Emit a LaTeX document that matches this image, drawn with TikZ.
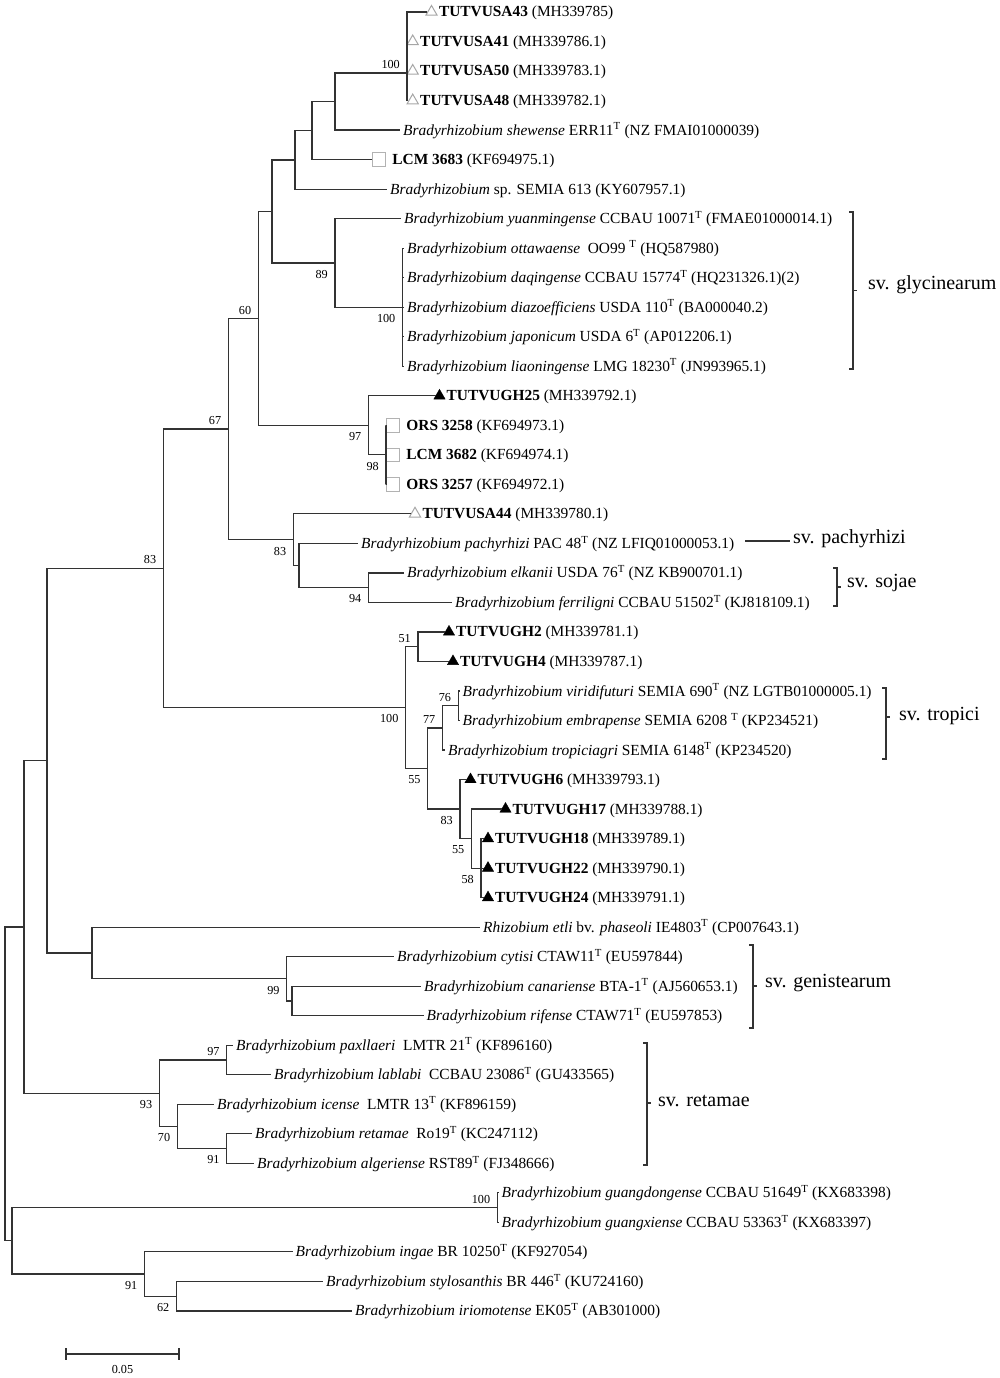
\documentclass[tikz,border=0pt]{standalone}
\usepackage{fontspec}
\setmainfont{Liberation Serif}
\usetikzlibrary{positioning,shapes.geometric}

\tikzset{
  branch/.style={line width=1.2pt, black!80},
  bracket/.style={line width=1.2pt, black!80},
  leaf/.style={anchor=west, inner xsep=3pt, inner ysep=0pt, text height=11.5pt, text depth=1.5pt,
    font=\fontsize{15.4}{18}\selectfont},
  boot/.style={inner sep=0pt, font=\fontsize{12.2}{14}\selectfont},
  bsup/.style={boot, anchor=south east, xshift=-7pt, yshift=4pt},
  bsdown/.style={boot, anchor=north east, xshift=-7pt, yshift=-7pt},
  usa/.style={regular polygon, regular polygon sides=3, draw=gray!70, line width=1pt, inner sep=0pt, minimum size=13pt},
  ugh/.style={regular polygon, regular polygon sides=3, draw=black, fill=black, inner sep=0pt, minimum size=13pt},
  refsq/.style={rectangle, draw=gray!60, line width=0.9pt, inner sep=0pt, minimum size=13.5pt},
  svlabel/.style={anchor=west, inner xsep=3pt, font=\fontsize{20}{24}\selectfont},
}

\begin{document}
\begin{tikzpicture}[x=1pt,y=-1pt]
\useasboundingbox (0,0) rectangle (1000,1378);

%Branch points of the tree (x = branch point, y = middle of its children)
\coordinate (nA) at (407,73);
\coordinate (nB) at (335,101.6);
\coordinate (nC) at (312,130.6);
\coordinate (nD) at (295,159.9);
\coordinate (nE) at (272,211.4);
\coordinate (n89) at (335,262.9);
\coordinate (n100b) at (402.5,307.2);
\coordinate (n60) at (258.3,318.4);
\coordinate (n97) at (368.4,425.3);
\coordinate (n98) at (386,454.8);
\coordinate (n83s) at (293.3,539.7);
\coordinate (nX) at (299,565.5);
\coordinate (n94) at (368.4,587.7);
\coordinate (n67) at (228.3,429);
\coordinate (n51) at (418,646.7);
\coordinate (n76) at (458.2,705.8);
\coordinate (n77) at (442.4,727.9);
\coordinate (n58) at (481,868.1);
\coordinate (n55b) at (471.5,838.6);
\coordinate (n83c) at (460,809);
\coordinate (n55) at (427.7,768.5);
\coordinate (n100t) at (405.6,707.6);
\coordinate (n83b) at (163.3,568.3);
\coordinate (nCR) at (292,1001);
\coordinate (n99) at (286.7,978.8);
\coordinate (nG) at (92,953);
\coordinate (nF) at (47,760.6);
\coordinate (n97r) at (226.7,1060);
\coordinate (n91r) at (226.7,1148.5);
\coordinate (n70) at (177.3,1126.4);
\coordinate (n93) at (159.3,1093.2);
\coordinate (nH) at (24,926.9);
\coordinate (n100g) at (497.3,1207.6);
\coordinate (n62) at (176.5,1296.2);
\coordinate (n91) at (144.5,1274);
\coordinate (nI) at (12,1240.8);
\coordinate (root) at (5,1083.9);

%Leaves
\node[usa] (m0) at (431.5,12) {};
\node[leaf, right=0pt of m0] (l0) {\textbf{TUTVUSA43} (MH339785)};
\node[usa] (m1) at (412.7,41.5) {};
\node[leaf, right=0pt of m1] (l1) {\textbf{TUTVUSA41} (MH339786.1)};
\node[usa] (m2) at (412.7,71) {};
\node[leaf, right=0pt of m2] (l2) {\textbf{TUTVUSA50} (MH339783.1)};
\node[usa] (m3) at (412.7,100.6) {};
\node[leaf, right=0pt of m3] (l3) {\textbf{TUTVUSA48} (MH339782.1)};
\node[leaf] (l4) at (400,130.1) {\textit{Bradyrhizobium shewense} ERR11\textsuperscript{T} (NZ FMAI01000039)};
\node[refsq] (m5) at (379,159.6) {};
\node[leaf, right=3pt of m5] (l5) {\textbf{LCM 3683} (KF694975.1)};
\node[leaf] (l6) at (387,189.1) {\textit{Bradyrhizobium} sp. SEMIA 613 (KY607957.1)};
\node[leaf] (l7) at (401,218.6) {\textit{Bradyrhizobium yuanmingense} CCBAU 10071\textsuperscript{T} (FMAE01000014.1)};
\node[leaf] (l8) at (404,248.2) {\textit{Bradyrhizobium ottawaense}\ \ OO99 \textsuperscript{T} (HQ587980)};
\node[leaf] (l9) at (404,277.7) {\textit{Bradyrhizobium daqingense} CCBAU 15774\textsuperscript{T} (HQ231326.1)(2)};
\node[leaf] (l10) at (404,307.2) {\textit{Bradyrhizobium diazoefficiens} USDA 110\textsuperscript{T} (BA000040.2)};
\node[leaf] (l11) at (404,336.7) {\textit{Bradyrhizobium japonicum} USDA 6\textsuperscript{T} (AP012206.1)};
\node[leaf] (l12) at (404,366.2) {\textit{Bradyrhizobium liaoningense} LMG 18230\textsuperscript{T} (JN993965.1)};
\node[ugh] (m13) at (439.5,395.8) {};
\node[leaf, right=0pt of m13] (l13) {\textbf{TUTVUGH25} (MH339792.1)};
\node[refsq] (m14) at (393,425.3) {};
\node[leaf, right=3pt of m14] (l14) {\textbf{ORS 3258} (KF694973.1)};
\node[refsq] (m15) at (393,454.8) {};
\node[leaf, right=3pt of m15] (l15) {\textbf{LCM 3682} (KF694974.1)};
\node[refsq] (m16) at (393,484.3) {};
\node[leaf, right=3pt of m16] (l16) {\textbf{ORS 3257} (KF694972.1)};
\node[usa] (m17) at (415,513.8) {};
\node[leaf, right=0pt of m17] (l17) {\textbf{TUTVUSA44} (MH339780.1)};
\node[leaf] (l18) at (358,543.4) {\textit{Bradyrhizobium pachyrhizi} PAC 48\textsuperscript{T} (NZ LFIQ01000053.1)};
\node[leaf] (l19) at (404,572.9) {\textit{Bradyrhizobium elkanii} USDA 76\textsuperscript{T} (NZ KB900701.1)};
\node[leaf] (l20) at (452,602.4) {\textit{Bradyrhizobium ferriligni} CCBAU 51502\textsuperscript{T} (KJ818109.1)};
\node[ugh] (m21) at (449,631.9) {};
\node[leaf, right=0pt of m21] (l21) {\textbf{TUTVUGH2} (MH339781.1)};
\node[ugh] (m22) at (453,661.4) {};
\node[leaf, right=0pt of m22] (l22) {\textbf{TUTVUGH4} (MH339787.1)};
\node[leaf] (l23) at (459.5,691) {\textit{Bradyrhizobium viridifuturi} SEMIA 690\textsuperscript{T} (NZ LGTB01000005.1)};
\node[leaf] (l24) at (459.5,720.5) {\textit{Bradyrhizobium embrapense} SEMIA 6208 \textsuperscript{T} (KP234521)};
\node[leaf] (l25) at (445,750) {\textit{Bradyrhizobium tropiciagri} SEMIA 6148\textsuperscript{T} (KP234520)};
\node[ugh] (m26) at (470.5,779.5) {};
\node[leaf, right=0pt of m26] (l26) {\textbf{TUTVUGH6} (MH339793.1)};
\node[ugh] (m27) at (505.5,809) {};
\node[leaf, right=0pt of m27] (l27) {\textbf{TUTVUGH17} (MH339788.1)};
\node[ugh] (m28) at (488,838.6) {};
\node[leaf, right=0pt of m28] (l28) {\textbf{TUTVUGH18} (MH339789.1)};
\node[ugh] (m29) at (488,868.1) {};
\node[leaf, right=0pt of m29] (l29) {\textbf{TUTVUGH22} (MH339790.1)};
\node[ugh] (m30) at (488,897.6) {};
\node[leaf, right=0pt of m30] (l30) {\textbf{TUTVUGH24} (MH339791.1)};
\node[leaf] (l31) at (480,927.1) {\textit{Rhizobium etli} bv. \textit{phaseoli} IE4803\textsuperscript{T} (CP007643.1)};
\node[leaf] (l32) at (394,956.6) {\textit{Bradyrhizobium cytisi} CTAW11\textsuperscript{T} (EU597844)};
\node[leaf] (l33) at (421,986.2) {\textit{Bradyrhizobium canariense} BTA-1\textsuperscript{T} (AJ560653.1)};
\node[leaf] (l34) at (423.5,1015.7) {\textit{Bradyrhizobium rifense} CTAW71\textsuperscript{T} (EU597853)};
\node[leaf] (l35) at (233,1045.2) {\textit{Bradyrhizobium paxllaeri}\ \ LMTR 21\textsuperscript{T} (KF896160)};
\node[leaf] (l36) at (271,1074.7) {\textit{Bradyrhizobium lablabi}\ \ CCBAU 23086\textsuperscript{T} (GU433565)};
\node[leaf] (l37) at (214,1104.2) {\textit{Bradyrhizobium icense}\ \ LMTR 13\textsuperscript{T} (KF896159)};
\node[leaf] (l38) at (252,1133.8) {\textit{Bradyrhizobium retamae}\ \ Ro19\textsuperscript{T} (KC247112)};
\node[leaf] (l39) at (254,1163.3) {\textit{Bradyrhizobium algeriense} RST89\textsuperscript{T} (FJ348666)};
\node[leaf] (l40) at (498.5,1192.8) {\textit{Bradyrhizobium guangdongense} CCBAU 51649\textsuperscript{T} (KX683398)};
\node[leaf] (l41) at (498.5,1222.3) {\textit{Bradyrhizobium guangxiense} CCBAU 53363\textsuperscript{T} (KX683397)};
\node[leaf] (l42) at (292.5,1251.8) {\textit{Bradyrhizobium ingae} BR 10250\textsuperscript{T} (KF927054)};
\node[leaf] (l43) at (323,1281.4) {\textit{Bradyrhizobium stylosanthis} BR 446\textsuperscript{T} (KU724160)};
\node[leaf] (l44) at (352,1310.9) {\textit{Bradyrhizobium iriomotense} EK05\textsuperscript{T} (AB301000)};

%Branches
\draw[branch] (nA) |- (m0.west);
\foreach \m in {m1,m2,m3} \draw[branch] (nA) |- (\m.west);
\draw[branch] (nB) |- (nA);
\draw[branch] (nB) |- (l4.west);
\draw[branch] (nC) |- (nB);
\draw[branch] (nC) |- (m5.west);
\draw[branch] (nD) |- (nC);
\draw[branch] (nD) |- (l6.west);
\draw[branch] (nE) |- (nD);
\draw[branch] (nE) |- (n89);
\draw[branch] (n89) |- (l7.west);
\draw[branch] (n89) |- (n100b);
\foreach \l in {l8,l9,l10,l11,l12} \draw[branch] (n100b) |- (\l.west);
\draw[branch] (n60) |- (nE);
\draw[branch] (n60) |- (n97);
\draw[branch] (n97) |- (m13.west);
\draw[branch] (n97) |- (n98);
\foreach \m in {m14,m15,m16} \draw[branch] (n98) |- (\m.west);
\draw[branch] (n83s) |- (m17.west);
\draw[branch] (n83s) |- (nX);
\draw[branch] (nX) |- (l18.west);
\draw[branch] (nX) |- (n94);
\draw[branch] (n94) |- (l19.west);
\draw[branch] (n94) |- (l20.west);
\draw[branch] (n67) |- (n60);
\draw[branch] (n67) |- (n83s);
\draw[branch] (n51) |- (m21.west);
\draw[branch] (n51) |- (m22.west);
\draw[branch] (n76) |- (l23.west);
\draw[branch] (n76) |- (l24.west);
\draw[branch] (n77) |- (n76);
\draw[branch] (n77) |- (l25.west);
\foreach \m in {m28,m29,m30} \draw[branch] (n58) |- (\m.west);
\draw[branch] (n55b) |- (m27.west);
\draw[branch] (n55b) |- (n58);
\draw[branch] (n83c) |- (m26.west);
\draw[branch] (n83c) |- (n55b);
\draw[branch] (n55) |- (n77);
\draw[branch] (n55) |- (n83c);
\draw[branch] (n100t) |- (n51);
\draw[branch] (n100t) |- (n55);
\draw[branch] (n83b) |- (n67);
\draw[branch] (n83b) |- (n100t);
\draw[branch] (nCR) |- (l33.west);
\draw[branch] (nCR) |- (l34.west);
\draw[branch] (n99) |- (l32.west);
\draw[branch] (n99) |- (nCR);
\draw[branch] (nG) |- (l31.west);
\draw[branch] (nG) |- (n99);
\draw[branch] (nF) |- (n83b);
\draw[branch] (nF) |- (nG);
\draw[branch] (n97r) |- (l35.west);
\draw[branch] (n97r) |- (l36.west);
\draw[branch] (n91r) |- (l38.west);
\draw[branch] (n91r) |- (l39.west);
\draw[branch] (n70) |- (l37.west);
\draw[branch] (n70) |- (n91r);
\draw[branch] (n93) |- (n97r);
\draw[branch] (n93) |- (n70);
\draw[branch] (nH) |- (nF);
\draw[branch] (nH) |- (n93);
\draw[branch] (n100g) |- (l40.west);
\draw[branch] (n100g) |- (l41.west);
\draw[branch] (n62) |- (l43.west);
\draw[branch] (n62) |- (l44.west);
\draw[branch] (n91) |- (l42.west);
\draw[branch] (n91) |- (n62);
\draw[branch] (nI) |- (n100g);
\draw[branch] (nI) |- (n91);
\draw[branch] (root) |- (nH);
\draw[branch] (root) |- (nI);

%Bootstrap values
\node[bsup] at (nA) {100};
\node[bsdown] at (n89) {89};
\node[bsdown] at (n100b) {100};
\node[bsup] at (n60) {60};
\node[bsup] at (n67) {67};
\node[bsdown] at (n97) {97};
\node[bsdown] at (n98) {98};
\node[bsdown] at (n83s) {83};
\node[bsdown] at (n94) {94};
\node[bsup] at (n83b) {83};
\node[bsup] at (n51) {51};
\node[bsdown] at (n100t) {100};
\node[bsup] at (n76) {76};
\node[bsup] at (n77) {77};
\node[bsdown] at (n55) {55};
\node[bsdown] at (n83c) {83};
\node[bsdown] at (n55b) {55};
\node[bsdown] at (n58) {58};
\node[bsdown] at (n99) {99};
\node[bsup] at (n97r) {97};
\node[bsdown] at (n93) {93};
\node[bsdown] at (n70) {70};
\node[bsdown] at (n91r) {91};
\node[bsup] at (n100g) {100};
\node[bsdown] at (n91) {91};
\node[bsdown] at (n62) {62};

%Symbiovar brackets
\draw[bracket] (849,212) -- (853,212) -- (853,369) -- (849,369);
\draw[bracket] (853,290.4) -- (857,290.4);
\node[svlabel] (svgly) at (865,285) {sv. glycinearum};
\coordinate (pachL) at (745,541);
\node[svlabel] (svpach) at (790,539) {sv. pachyrhizi};
\draw[bracket] (pachL) -- (pachL -| svpach.west);
\draw[bracket] (833,568) -- (837,568) -- (837,606) -- (833,606);
\draw[bracket] (837,587) -- (841,587);
\node[svlabel] (svsoj) at (844,583) {sv. sojae};
\draw[bracket] (882,688) -- (886,688) -- (886,759) -- (882,759);
\draw[bracket] (886,717) -- (890,717);
\node[svlabel] (svtrop) at (896,716) {sv. tropici};
\draw[bracket] (749,945) -- (753,945) -- (753,1028) -- (749,1028);
\draw[bracket] (753,986) -- (757,986);
\node[svlabel] (svgen) at (762,983) {sv. genistearum};
\draw[bracket] (643,1043) -- (647,1043) -- (647,1165) -- (643,1165);
\draw[bracket] (647,1103) -- (651,1103);
\node[svlabel] (svret) at (655,1101) {sv. retamae};

%Scale bar
\coordinate (sbL) at (66,1354);
\coordinate (sbR) at (179,1354);
\draw[branch] (sbL) -- (sbR);
\draw[branch] ([yshift=6pt]sbL) -- ([yshift=-6pt]sbL);
\draw[branch] ([yshift=6pt]sbR) -- ([yshift=-6pt]sbR);
\node[boot, anchor=north] (sbtext) at (122.5,1365) {0.05};
\end{tikzpicture}
\end{document}
